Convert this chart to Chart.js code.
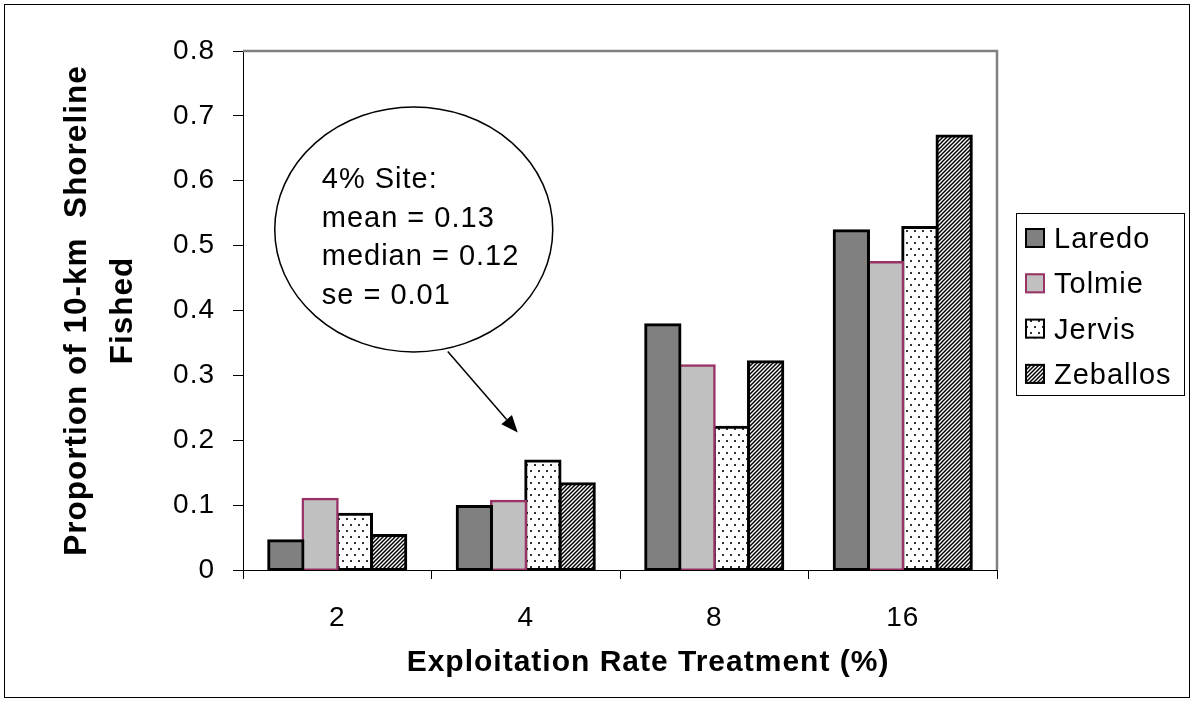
<!DOCTYPE html>
<html>
<head>
<meta charset="utf-8">
<script src="https://cdn.jsdelivr.net/npm/chart.js@4.4.0/dist/chart.umd.min.js"></script>
<style>
  html, body { margin: 0; padding: 0; background: #fff; }
</style>
</head>
<body>
<canvas id="myChart" width="1194" height="702"></canvas>
<script>
const categories = ["2", "4", "8", "16"];
const laredo = [0.045, 0.098, 0.378, 0.523];
const tolmie = [0.109, 0.106, 0.315, 0.474];
const jervis = [0.086, 0.168, 0.220, 0.528];
const zeballos = [0.053, 0.133, 0.321, 0.669];
const yTicks = [0, 0.1, 0.2, 0.3, 0.4, 0.5, 0.6, 0.7, 0.8];
const calloutLines = ["4% Site:", "mean = 0.13", "median = 0.12", "se = 0.01"];

const FONT = "'Liberation Sans', Arial, sans-serif";

// fill patterns like the old excel ones
function dotPattern() {
  const c = document.createElement("canvas");
  c.width = 8; c.height = 12;
  const g = c.getContext("2d");
  g.fillStyle = "#fff";
  g.fillRect(0, 0, 8, 12);
  g.fillStyle = "#333";
  g.fillRect(2, 2, 2, 2);
  g.fillRect(6, 8, 2, 2);
  return g.createPattern(c, "repeat");
}

function hatchPattern() {
  const s = 4;
  const c = document.createElement("canvas");
  c.width = s; c.height = s;
  const g = c.getContext("2d");
  g.fillStyle = "#fff";
  g.fillRect(0, 0, s, s);
  g.strokeStyle = "#000";
  g.lineWidth = 1.5;
  g.beginPath();
  g.moveTo(-1, s + 1); g.lineTo(s + 1, -1);
  g.moveTo(-1, 1); g.lineTo(1, -1);
  g.moveTo(s - 1, s + 1); g.lineTo(s + 1, s - 1);
  g.stroke();
  return g.createPattern(c, "repeat");
}

const barStyle = {
  borderWidth: 3,
  inflateAmount: 1.5,
  borderSkipped: false,
  categoryPercentage: 0.7273,
  barPercentage: 1,
};

const data = {
  labels: categories,
  datasets: [
    { label: "Laredo", data: laredo, backgroundColor: "#808080", borderColor: "#000", ...barStyle },
    { label: "Tolmie", data: tolmie, backgroundColor: "#C0C0C0", borderColor: "#993366", ...barStyle, borderWidth: 2.5 },
    { label: "Jervis", data: jervis, backgroundColor: dotPattern(), borderColor: "#000", ...barStyle },
    { label: "Zeballos", data: zeballos, backgroundColor: hatchPattern(), borderColor: "#000", ...barStyle },
  ],
};

// text in the original is a little wider than Arial, so add a bit of spacing
const spacingPlugin = {
  id: "spacing",
  beforeDraw(chart) {
    chart.ctx.letterSpacing = "1px";
  },
};

// gray frame on top/right of plot + outer border
const framePlugin = {
  id: "frame",
  beforeDatasetsDraw(chart) {
    const { ctx, chartArea: a } = chart;
    ctx.save();
    ctx.strokeStyle = "#808080";
    ctx.lineWidth = 2.5;
    ctx.beginPath();
    ctx.moveTo(a.left, a.top);
    ctx.lineTo(a.right, a.top);
    ctx.lineTo(a.right, a.bottom);
    ctx.stroke();
    ctx.restore();
  },
  afterDraw(chart) {
    const ctx = chart.ctx;
    ctx.save();
    ctx.strokeStyle = "#000";
    ctx.lineWidth = 1;
    ctx.strokeRect(4.5, 4.5, chart.width - 9, chart.height - 9);
    ctx.restore();
  },
};

const legendPlugin = {
  id: "boxLegend",
  afterDraw(chart) {
    const { ctx, chartArea: a } = chart;
    const left = a.right + 19;
    const top = a.top + 162;
    ctx.save();
    ctx.letterSpacing = "1px";
    ctx.strokeStyle = "#000";
    ctx.lineWidth = 1;
    ctx.strokeRect(left + 0.5, top + 0.5, 168, 182);
    ctx.font = "29px " + FONT;
    ctx.textBaseline = "alphabetic";
    ctx.textAlign = "left";
    chart.data.datasets.forEach((ds, i) => {
      const cy = top + 25 + i * 45.3;
      ctx.fillStyle = ds.backgroundColor;
      ctx.fillRect(left + 9, cy - 10, 20, 20);
      ctx.strokeStyle = ds.borderColor;
      ctx.lineWidth = 2;
      ctx.strokeRect(left + 10, cy - 9, 18, 18);
      ctx.fillStyle = "#000";
      ctx.fillText(ds.label, left + 38, cy + 10);
    });
    ctx.restore();
  },
};

const calloutPlugin = {
  id: "callout",
  afterDraw(chart) {
    const { ctx } = chart;
    const xs = chart.scales.x, ys = chart.scales.y;
    const tipX = xs.getPixelForValue(1) - 8;
    const tipY = ys.getPixelForValue(0.212);
    const cx = tipX - 104, cy = tipY - 203;
    ctx.save();
    // ellipse
    ctx.beginPath();
    ctx.ellipse(cx, cy, 139, 122.5, 0, 0, Math.PI * 2);
    ctx.fillStyle = "#fff";
    ctx.fill();
    ctx.strokeStyle = "#000";
    ctx.lineWidth = 1.5;
    ctx.stroke();
    // text
    ctx.fillStyle = "#000";
    ctx.font = "29px " + FONT;
    ctx.letterSpacing = "1px";
    ctx.textAlign = "left";
    ctx.textBaseline = "alphabetic";
    calloutLines.forEach((t, i) => {
      ctx.fillText(t, cx - 92, cy - 41 + i * 38.4);
    });
    // arrow
    const sx = tipX - 70, sy = tipY - 81;
    const ang = Math.atan2(tipY - sy, tipX - sx);
    const hl = 17, hw = 7;
    const bx = tipX - hl * Math.cos(ang), by = tipY - hl * Math.sin(ang);
    ctx.lineWidth = 1.5;
    ctx.beginPath();
    ctx.moveTo(sx, sy);
    ctx.lineTo(bx, by);
    ctx.stroke();
    ctx.beginPath();
    ctx.moveTo(tipX, tipY);
    ctx.lineTo(bx + hw * Math.sin(ang), by - hw * Math.cos(ang));
    ctx.lineTo(bx - hw * Math.sin(ang), by + hw * Math.cos(ang));
    ctx.closePath();
    ctx.fill();
    ctx.restore();
  },
};

const config = {
  type: "bar",
  data: data,
  options: {
    responsive: false,
    animation: false,
    layout: { padding: { left: 0, top: 51, right: 197, bottom: 0 } },
    plugins: {
      legend: { display: false },
      tooltip: { enabled: false },
    },
    scales: {
      x: {
        grid: { drawOnChartArea: false, drawTicks: true, tickLength: 9, color: "#000", lineWidth: 1, offset: true },
        border: { display: true, color: "#000", width: 1 },
        ticks: { color: "#000", font: { family: FONT, size: 28 }, padding: 22 },
        title: {
          display: true,
          text: "      Exploitation Rate Treatment (%)",
          color: "#000",
          font: { family: FONT, size: 30, weight: "bold" },
          padding: { top: 0, bottom: 21 },
        },
        afterFit: (s) => { s.height = 132; },
      },
      y: {
        min: 0,
        max: 0.8,
        afterBuildTicks: (s) => { s.ticks = yTicks.map((v) => ({ value: v })); },
        grid: { drawOnChartArea: false, tickLength: 10, color: "#000", lineWidth: 1 },
        border: { display: true, color: "#000", width: 1 },
        ticks: {
          color: "#000",
          font: { family: FONT, size: 28 },
          padding: 18,
          callback: (v) => String(Math.round(v * 10) / 10),
        },
        title: {
          display: true,
          text: ["Proportion of 10-km  Shoreline", "Fished"],
          color: "#000",
          font: { family: FONT, size: 31.5, weight: "bold", lineHeight: "46px" },
          padding: { top: 54, bottom: 0 },
        },
        afterFit: (s) => { s.width = 243; },
      },
    },
  },
  plugins: [spacingPlugin, framePlugin, legendPlugin, calloutPlugin],
};

const myChart = new Chart(document.getElementById("myChart").getContext("2d"), config);
</script>
</body>
</html>
